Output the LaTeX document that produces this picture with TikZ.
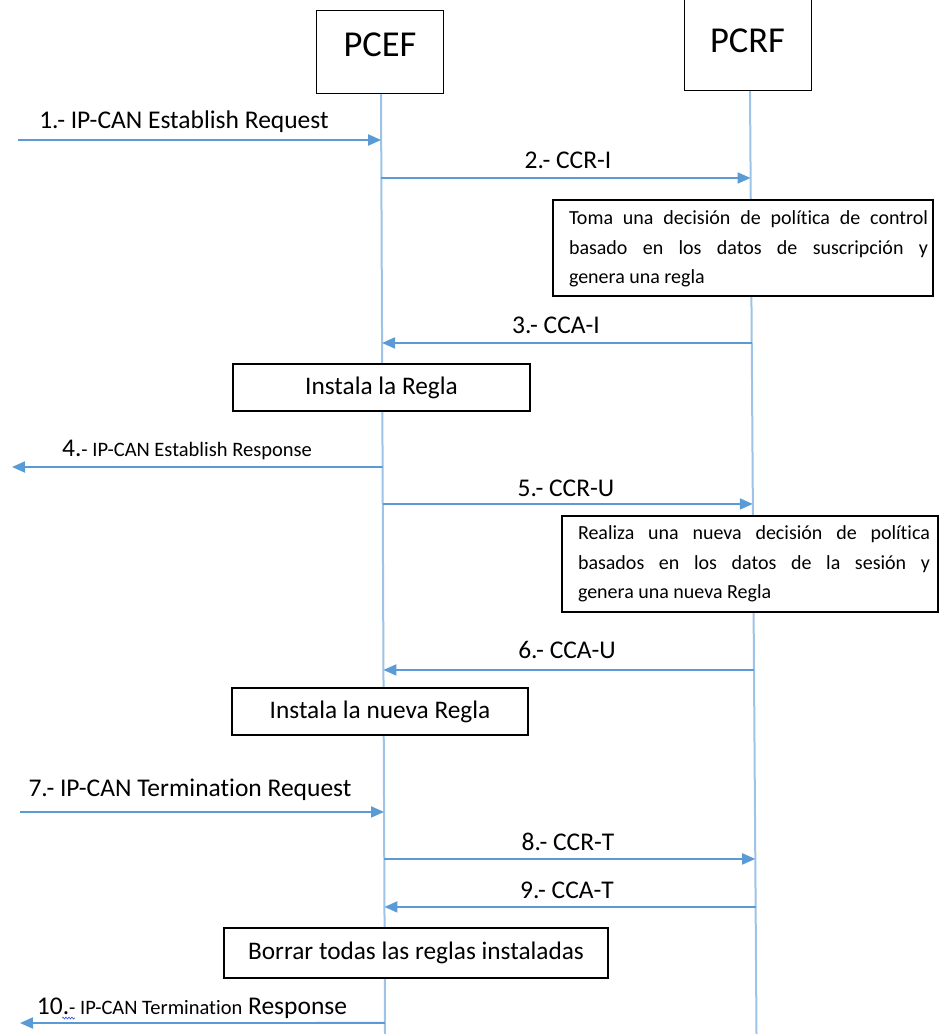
\documentclass[tikz,border=0pt]{standalone}
\usepackage{fontspec}
\setmainfont[Ligatures=NoCommon]{Carlito}
\usetikzlibrary{arrows.meta,calc,decorations.pathmorphing}

\definecolor{msgblue}{HTML}{5B9BD5}
\definecolor{lifeblue}{HTML}{9DC3E6}
\definecolor{spellblue}{HTML}{3050E0}

\begin{document}
\begin{tikzpicture}[x=1pt,y=-1pt,
  lifeline/.style={draw=lifeblue, line width=2pt},
  msg/.style={draw=msgblue, line width=1.9pt, -{Triangle[length=13pt,width=11pt]}},
  actor/.style={draw=black, line width=1pt, fill=white, inner sep=0pt,
    minimum width=127pt, font=\fontsize{36.5}{40}\selectfont},
  stepbox/.style={draw=black, line width=1.2pt, fill=white, inner sep=0pt,
    font=\fontsize{25.3}{28}\selectfont},
  notebox/.style={draw=black, line width=1.2pt, fill=white, inner sep=0pt},
  notetext/.style={inner sep=0pt, align=justify, font=\fontsize{20}{29.5}\selectfont},
  lbl/.style={inner sep=0pt, font=\fontsize{25.5}{28}\selectfont}]

\useasboundingbox (0,0) rectangle (939,1034);
\clip (0,0) rectangle (939,1034);

% lifelines
\coordinate (efT) at (381,93);
\coordinate (efB) at (385,1034);
\coordinate (rfT) at (750,90);
\coordinate (rfB) at (756.5,1034);
\draw[lifeline] (efT) -- (efB);
\draw[lifeline] (rfT) -- (rfB);

% participants
\node[actor, minimum height=83pt, text height=23pt, text depth=14pt] (pcef) at (380,51.5) {PCEF};
\node[actor, minimum height=110pt, text height=40pt, text depth=6pt] (pcrf) at (747.5,35) {PCRF};

% message end points on the lifelines
\coordinate (e1)  at (intersection of efT--efB and 0,140--939,140);
\coordinate (e2)  at (intersection of efT--efB and 0,178--939,178);
\coordinate (r2)  at (intersection of rfT--rfB and 0,178--939,178);
\coordinate (r3)  at (intersection of rfT--rfB and 0,343--939,343);
\coordinate (e3)  at (intersection of efT--efB and 0,343--939,343);
\coordinate (e4)  at (intersection of efT--efB and 0,467--939,467);
\coordinate (e5)  at (intersection of efT--efB and 0,504--939,504);
\coordinate (r5)  at (intersection of rfT--rfB and 0,504--939,504);
\coordinate (r6)  at (intersection of rfT--rfB and 0,670--939,670);
\coordinate (e6)  at (intersection of efT--efB and 0,670--939,670);
\coordinate (e7)  at (intersection of efT--efB and 0,812--939,812);
\coordinate (e8)  at (intersection of efT--efB and 0,859--939,859);
\coordinate (r8)  at (intersection of rfT--rfB and 0,859--939,859);
\coordinate (r9)  at (intersection of rfT--rfB and 0,907--939,907);
\coordinate (e9)  at (intersection of efT--efB and 0,907--939,907);
\coordinate (e10) at (intersection of efT--efB and 0,1023--939,1023);

% outside end points
\coordinate (src1)  at (18,140);
\coordinate (dst4)  at (12,467);
\coordinate (src7)  at (20,812);
\coordinate (dst10) at (20,1023);

% messages
\draw[msg] (src1) -- (e1);
\draw[msg] (e2) -- (r2);
\draw[msg] (r3) -- (e3);
\draw[msg] (e4) -- (dst4);
\draw[msg] (e5) -- (r5);
\draw[msg] (r6) -- (e6);
\draw[msg] (src7) -- (e7);
\draw[msg] (e8) -- (r8);
\draw[msg] (r9) -- (e9);
\draw[msg] (e10) -- (dst10);

% message labels
\node[lbl] (l1)  at (184,122)  {1.- IP-CAN Establish Request};
\node[lbl] (l2)  at (568,160)  {2.- CCR-I};
\node[lbl] (l3)  at (556,325)  {3.- CCA-I};
\node[lbl] (l4)  at (187,450)  {4.{\fontsize{20.5}{24}\selectfont- IP-CAN Establish Response}};
\node[lbl] (l5)  at (566,488)  {5.- CCR-U};
\node[lbl] (l6)  at (567,650)  {6.- CCA-U};
\node[lbl] (l7)  at (190,790)  {7.- IP-CAN Termination Request};
\node[lbl] (l8)  at (568,842)  {8.- CCR-T};
\node[lbl] (l9)  at (567,890)  {9.- CCA-T};
\node[lbl] (l10) at (192,1008) {10.{\fontsize{20.5}{24}\selectfont- IP-CAN Termination} Response};
\draw[spellblue, line width=0.6pt, decorate, decoration={snake, amplitude=1pt, segment length=3pt}]
  (62,1018) -- (75,1018);

% PCRF decisions
\node[notebox, minimum width=380pt, minimum height=96pt] (n1) at (743,248) {};
\node[notetext, text width=359pt] (n1t) at (748.5,249)
  {Toma una decisión de política de control\linebreak
   basado en los datos de suscripción y\linebreak
   genera una regla};
\node[notebox, minimum width=376pt, minimum height=96pt] (n2) at (750,564) {};
\node[notetext, text width=352pt] (n2t) at (754,564)
  {Realiza una nueva decisión de política\linebreak
   basados en los datos de la sesión y\linebreak
   genera una nueva Regla};

% PCEF actions
\node[stepbox, minimum width=297pt, minimum height=47pt] (s1) at (381.5,387.5) {Instala la Regla};
\node[stepbox, minimum width=296pt, minimum height=47pt] (s2) at (380,711.5) {Instala la nueva Regla};
\node[stepbox, minimum width=384pt, minimum height=50pt] (s3) at (416,953) {Borrar todas las reglas instaladas};
\end{tikzpicture}
\end{document}
